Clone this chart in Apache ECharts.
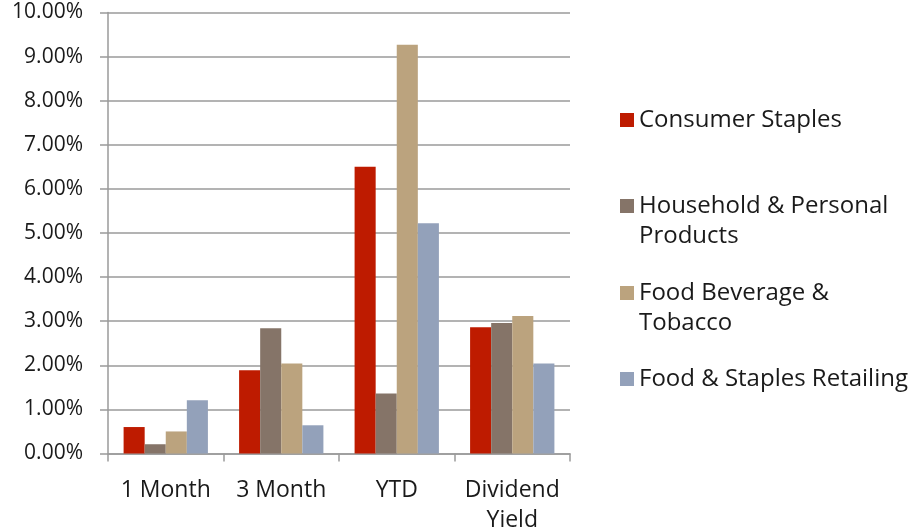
<!DOCTYPE html>
<html>
<head>
<meta charset="utf-8">
<script src="https://cdn.jsdelivr.net/npm/echarts@6/dist/echarts.min.js"></script>
<style>
html,body{margin:0;padding:0;background:#fff;}
#chart{width:918px;height:532px;}
</style>
</head>
<body>
<div id="chart"></div>
<script>
const categories = ['1 Month', '3 Month', 'YTD', 'Dividend\nYield'];
const seriesNames = ['Consumer Staples', 'Household & Personal Products', 'Food Beverage & Tobacco', 'Food & Staples Retailing'];
const legendLabels = ['Consumer Staples', '\nHousehold & Personal\nProducts', '\nFood Beverage &\nTobacco', 'Food & Staples Retailing'];
const consumerStaples = [0.60, 1.89, 6.50, 2.86];
const householdPersonal = [0.21, 2.84, 1.36, 2.96];
const foodBeverageTobacco = [0.50, 2.04, 9.27, 3.12];
const foodStaplesRetailing = [1.21, 0.64, 5.22, 2.04];
const yTicks = { min: 0, max: 10, interval: 1 };

const colors = ['#BE1B00', '#857468', '#BBA37E', '#93A1BA'];
const values = [consumerStaples, householdPersonal, foodBeverageTobacco, foodStaplesRetailing];
const FONT = '"Open Sans", sans-serif';
const LH = 30;

const legendTops = [105, 161, 248, 364];
const legends = seriesNames.map((name, i) => ({
  data: [name],
  orient: 'vertical',
  left: 620,
  top: legendTops[i],
  padding: 0,
  itemWidth: 14,
  itemHeight: 14,
  itemGap: 0,
  icon: 'rect',
  formatter: () => legendLabels[i],
  textStyle: { fontFamily: FONT, fontSize: 24, color: '#1a1a1a', lineHeight: LH }
}));

const chart = echarts.init(document.getElementById('chart'), null, { renderer: 'canvas' });
chart.setOption({
  animation: false,
  backgroundColor: '#ffffff',
  color: colors,
  grid: { left: 108, right: 348, top: 12.5, bottom: 78.5, containLabel: false, outerBoundsMode: 'none' },
  legend: legends,
  xAxis: {
    type: 'category',
    data: categories,
    axisLine: { show: true, lineStyle: { color: '#9a9a9a', width: 1.5 } },
    axisTick: { show: true, length: 8, lineStyle: { color: '#9a9a9a', width: 1.5 } },
    axisLabel: { interval: 0, fontFamily: FONT, fontSize: 23, color: '#1a1a1a', lineHeight: LH, margin: 22 },
    splitLine: { show: false }
  },
  yAxis: {
    type: 'value',
    min: yTicks.min,
    max: yTicks.max,
    interval: yTicks.interval,
    axisLine: { show: true, lineStyle: { color: '#9a9a9a', width: 1.5 } },
    axisTick: { show: true, length: 8, lineStyle: { color: '#9a9a9a', width: 1.5 } },
    axisLabel: { fontFamily: FONT, fontSize: 21, color: '#1a1a1a', margin: 25, padding: [8, 0, 0, 0], formatter: v => v.toFixed(2) + '%' },
    splitLine: { show: true, lineStyle: { color: '#9a9a9a', width: 1.5 } }
  },
  series: seriesNames.map((name, i) => ({
    name: name,
    type: 'bar',
    data: values[i],
    barGap: '0%',
    barCategoryGap: '27%',
    itemStyle: { color: colors[i] }
  }))
});
</script>
</body>
</html>
